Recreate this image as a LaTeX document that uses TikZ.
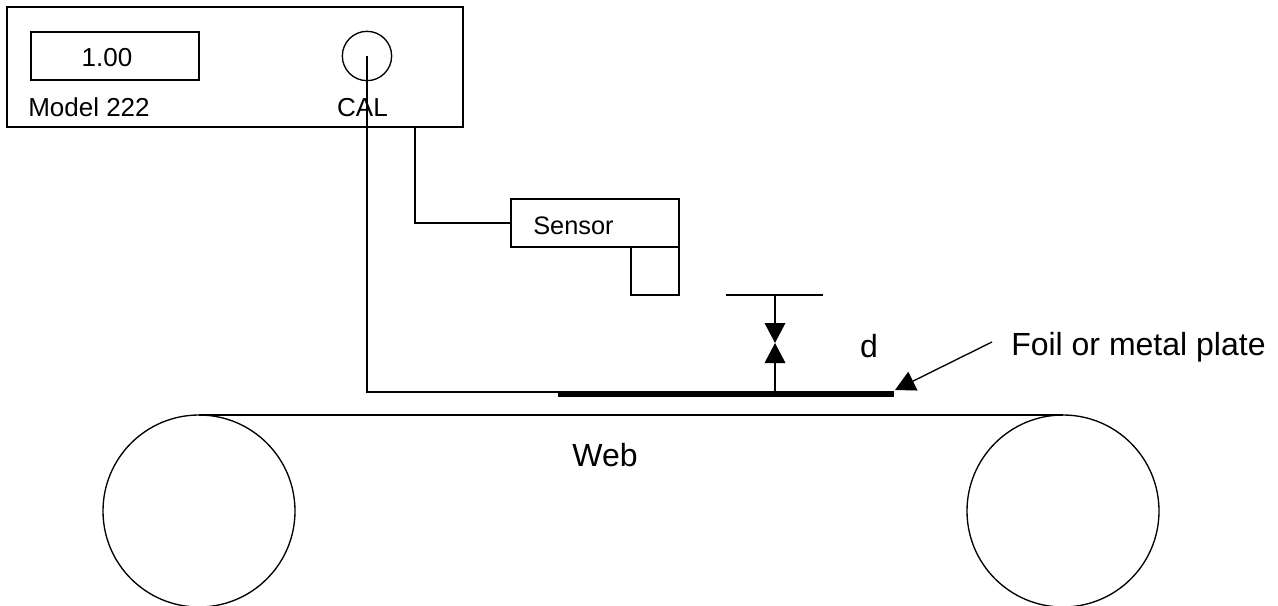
\documentclass[tikz,border=0pt]{standalone}
\usepackage{fontspec}
\setmainfont{Liberation Sans}
\usetikzlibrary{arrows.meta, positioning}

\begin{document}
\begin{tikzpicture}[
  x=0.75pt, y=-0.75pt,
  box/.style={rectangle, draw=black, line width=1pt, outer sep=0pt, inner sep=0pt},
  small/.style={inner sep=0pt, font=\fontsize{19.5}{22}\selectfont},
  large/.style={inner sep=0pt, font=\fontsize{24}{28}\selectfont},
  wire/.style={line width=1pt},
  flow/.style={-{Triangle[length=15pt, width=15.5pt]}, line width=1pt}
]
  \useasboundingbox (0,0) rectangle (1278,606);

  \node[box, minimum width=342pt, minimum height=90pt] (model) at (235,67) {};
  \node[box, minimum width=126pt, minimum height=36pt] (disp) at (115,56) {};
  \node[small] (dispval) at (107,58) {1.00};
  \node[box, circle, minimum size=37pt] (knob) at (367,56) {};
  \node[small, anchor=base west] (modelname) at (28,117) {Model 222};
  \node[small, anchor=base] (cal) at (362.5,117) {CAL};

  \node[box, minimum width=126pt, minimum height=36pt] (sensor) at (595,223) {};
  \node[small, anchor=west, font=\fontsize{19}{22}\selectfont] (sensorname) at (533,226) {Sensor};
  \node[box, minimum width=36pt, minimum height=36pt, below=0pt of sensor.south east, anchor=north east] (probe) {};

  \node[rectangle, fill=black, inner sep=0pt, minimum width=252pt, minimum height=4.5pt] (plate) at (726,394) {};
  \node[large] (gap) at (869,346) {d};
  \node[large, anchor=base west] (foil) at (1011,355) {Foil or metal plate};
  \node[large] (web) at (605,455) {Web};

  \node[box, circle, minimum size=144pt] (rollerl) at (199,511) {};
  \node[box, circle, minimum size=144pt] (rollerr) at (1063,511) {};

  \coordinate (ticka) at (726,295);
  \coordinate (tickb) at (823,295);
  \coordinate (tickm) at (775,295);
  \coordinate (gapm) at (775,343);
  \coordinate (foilend) at (992,342);
  \coordinate (platetip) at (895,390);
  \coordinate (weba) at (654,415.5);
  \coordinate (webb) at (918,415.5);
  \coordinate (modelout) at (415,127);

  \draw[wire] (knob.center) -- (knob.center |- 0,392) -- (plate.west |- 0,392);
  \draw[wire] (modelout) |- (sensor.west);
  \draw[wire] (ticka) -- (tickb);
  \draw[flow] (tickm) -- (gapm);
  \draw[flow] (plate.north -| gapm) -- (gapm);
  \draw[flow] (foilend) -- (platetip);
  \draw[wire, line width=0.8pt] (rollerl.north) -- (rollerr.north);
  \draw[wire] (weba) -- (webb);
\end{tikzpicture}
\end{document}
